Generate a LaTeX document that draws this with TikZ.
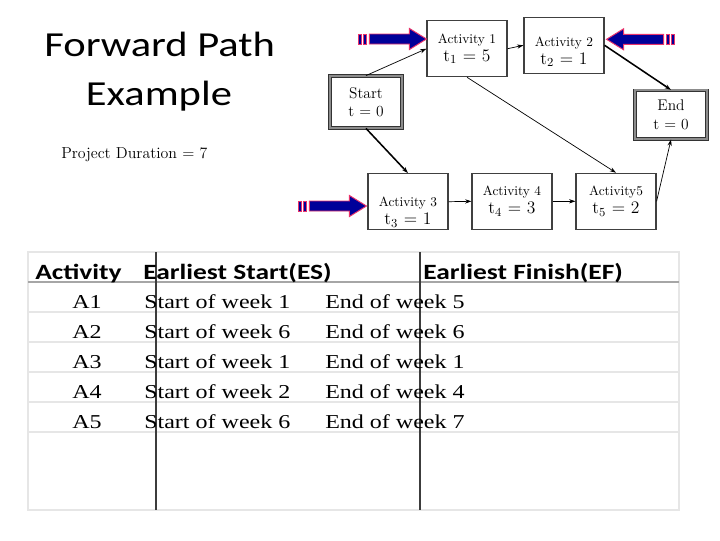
\documentclass[tikz,border=0pt]{standalone}
\usepackage{fontspec}
\usepackage{xcolor}
\usepackage{tikz}
\usetikzlibrary{arrows.meta,calc,positioning}
\newfontfamily\titlefont[FakeStretch=1.21]{Carlito}
\newfontfamily\headfont[FakeStretch=1.26]{Carlito}
\newfontfamily\cellfont[FakeStretch=1.22]{Liberation Serif}
\definecolor{navyfill}{HTML}{000099}
\definecolor{pinkedge}{HTML}{E8336B}
\definecolor{boxedge}{HTML}{404040}
\definecolor{rowline}{HTML}{E6E6E6}
\definecolor{headline}{HTML}{A6A6A6}
\definecolor{colline}{HTML}{3C3C3C}
\newcommand{\acttext}[2]{{\fontsize{9.5}{11}\selectfont #1}\\[1pt]{\fontsize{12.5}{14}\selectfont #2}}
\tikzset{
  stripearrow/.pic={
    \path[fill=navyfill,draw=pinkedge,line width=0.7pt]
      (-57,-5) -- (-17,-5) -- (-17,-10.5) -- (0,0) -- (-17,10.5) -- (-17,5) -- (-57,5) -- cycle;
    \path[fill=navyfill,draw=pinkedge,line width=0.7pt]
      (-68,-5) rectangle (-65,5) (-63,-5) rectangle (-60,5);
  }
}

\begin{document}
\begin{tikzpicture}[x=0.025cm,y=-0.025cm,
  actbox/.style={draw=boxedge,line width=0.8pt,fill=white,minimum width=2cm,minimum height=1.4cm,align=center,inner sep=1pt},
  endbox/.style={actbox,draw=black!80,line width=0.6pt,double=black!45,double distance=1.2pt,minimum width=1.8cm},
  link/.style={-{Stealth[length=4.5pt,width=3pt]},line width=0.5pt},
  heavylink/.style={link,line width=1.1pt},
  rowrule/.style={draw=rowline,line width=1.2pt},
  colrule/.style={draw=colline,line width=1pt},
  cell/.style={anchor=base west,inner sep=0pt,font=\cellfont\fontsize{14}{16}\selectfont},
  headcell/.style={anchor=base west,inner sep=0pt,font=\headfont\bfseries\fontsize{15.5}{18}\selectfont}]
  \useasboundingbox (0,0) rectangle (720,540);

  % title
  \node[anchor=base,inner sep=0pt,font=\titlefont\fontsize{25}{30}\selectfont] (title1) at (159.7,56.7) {Forward Path};
  \node[anchor=base,inner sep=0pt,font=\titlefont\fontsize{25}{30}\selectfont] (title2) at (159,105) {Example};
  \node[anchor=base west,inner sep=0pt,font=\fontsize{11.3}{13}\selectfont] (duration) at (61,158.3) {Project Duration = 7};

  % network
  \node[endbox,minimum height=1.3cm,font=\fontsize{11}{13}\selectfont] (start) at (366,102) {Start\\t = 0};
  \node[actbox] (act1) at (467,48.7) {\acttext{Activity 1}{t\textsubscript{1} = 5}};
  \node[actbox] (act2) at (564,45.3) {\acttext{\rule{0pt}{16pt}Activity 2}{t\textsubscript{2} = 1}};
  \node[endbox,minimum height=1.22cm,font=\fontsize{11}{13}\selectfont] (finish) at (671,114.7) {End\\t = 0};
  \node[actbox] (act3) at (408,201.7) {\acttext{\rule{0pt}{22pt}Activity 3}{t\textsubscript{3} = 1}};
  \node[actbox] (act4) at (512,201.3) {\acttext{Activity 4}{t\textsubscript{4} = 3}};
  \node[actbox] (act5) at (616,201.3) {\acttext{Activity5}{t\textsubscript{5} = 2}};

  \draw[link] (start.north) -- (act1.west);
  \draw[link] (act1.east) -- (act2.west);
  \draw[link] (act1.south) -- (act5.north);
  \draw[heavylink] (act2.east) -- (finish.north);
  \draw[heavylink] (start.south) -- (act3.north);
  \draw[link] (act3.east) -- (act4.west);
  \draw[link] (act4.east) -- (act5.west);
  \draw[link] (act5.east) -- (finish.south);

  \pic at ($(act1.west)+(0,-9.7)$) {stripearrow};
  \pic[rotate=180] at ($(act2.east)+(2,-6)$) {stripearrow};
  \pic at ($(act3.west)+(-1,4.3)$) {stripearrow};

  % table
  \draw[rowrule] (28,252) rectangle (679,510);
  \foreach \y in {312,342,...,432}
    \draw[rowrule] (28,\y) -- (679,\y);
  \draw[draw=headline,line width=1.4pt] (28,282) -- (679,282);
  \foreach \x in {156,420}
    \draw[colrule] (\x,252) -- (\x,510);

  \node[headcell] (hact) at (35,279.3) {Activity};
  \node[headcell] (hes) at (143,279.3) {Earliest Start(ES)};
  \node[headcell] (hef) at (423,279.3) {Earliest Finish(EF)};
  \foreach \a/\s/\e [count=\i] in {1/1/5,2/6/6,3/1/1,4/2/4,5/6/7}{
    \node[cell] (a\i) at (72,278.3+30*\i) {A\a};
    \node[cell] (es\i) at (144,278.3+30*\i) {Start of week \s};
    \node[cell] (ef\i) at (325,278.3+30*\i) {End of week \e};
  }
\end{tikzpicture}
\end{document}
